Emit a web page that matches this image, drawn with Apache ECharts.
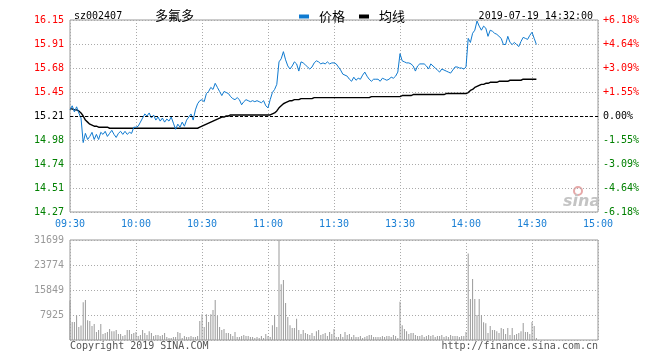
<!DOCTYPE html>
<html>
<head>
<meta charset="utf-8">
<script src="https://cdn.jsdelivr.net/npm/echarts@6/dist/echarts.min.js"></script>
<style>
html,body{margin:0;padding:0;background:#fff;}
#chart{width:660px;height:360px;}
</style>
</head>
<body>
<div id="chart"></div>
<script>
var stockCode = 'sz002407';
var stockName = '多氟多';
var stamp = '2019-07-19 14:32:00';
var prevClose = 15.21;
var priceMin = 14.27, priceMax = 16.15;
var volMax = 31699;
var timeTicks = ['09:30','10:00','10:30','11:00','11:30','13:30','14:00','14:30','15:00'];
var priceLabels = ['14.27','14.51','14.74','14.98','15.21','15.45','15.68','15.91','16.15'];
var pctLabels = ['-6.18%','-4.64%','-3.09%','-1.55%','0.00%','+1.55%','+3.09%','+4.64%','+6.18%'];
var volLabels = ['','7925','15849','23774','31699'];

// one value per trading minute from 09:30 (index 0) to 14:32
var prices = [
15.27,15.31,15.25,15.30,15.24,15.19,14.95,15.04,14.98,15.01,
15.05,14.98,15.03,14.98,15.05,15.03,15.06,15.01,15.04,15.07,
15.03,15.00,15.04,15.06,15.03,15.06,15.03,15.05,15.04,15.10,
15.10,15.11,15.15,15.19,15.23,15.21,15.24,15.19,15.22,15.17,
15.20,15.16,15.19,15.15,15.18,15.16,15.20,15.14,15.08,15.13,
15.10,15.15,15.11,15.17,15.20,15.23,15.17,15.27,15.33,15.36,
15.37,15.35,15.43,15.45,15.49,15.47,15.53,15.49,15.45,15.41,
15.45,15.44,15.43,15.40,15.38,15.37,15.39,15.37,15.32,15.35,
15.37,15.36,15.35,15.36,15.35,15.36,15.35,15.34,15.36,15.31,
15.29,15.37,15.44,15.47,15.52,15.74,15.77,15.84,15.76,15.70,
15.67,15.70,15.74,15.72,15.65,15.74,15.73,15.71,15.69,15.67,
15.69,15.73,15.75,15.74,15.72,15.73,15.72,15.74,15.72,15.73,
15.73,15.72,15.69,15.66,15.62,15.61,15.60,15.57,15.55,15.59,
15.56,15.58,15.57,15.61,15.64,15.60,15.57,15.55,15.57,15.57,
15.57,15.55,15.58,15.57,15.56,15.57,15.59,15.58,15.60,15.64,
15.82,15.75,15.74,15.73,15.73,15.72,15.70,15.65,15.70,15.72,
15.72,15.72,15.70,15.67,15.72,15.70,15.68,15.66,15.64,15.67,
15.66,15.65,15.64,15.63,15.66,15.69,15.69,15.68,15.68,15.67,
15.69,15.97,15.93,16.02,16.05,16.14,16.09,16.05,16.09,16.07,
15.99,16.05,16.04,16.02,16.01,15.99,15.97,15.91,15.91,15.99,
15.93,15.91,15.93,15.91,15.89,15.94,15.98,15.97,15.96,16.00,
16.03,15.97,15.91
];
var avgPrices = [
15.28,15.28,15.27,15.27,15.26,15.24,15.21,15.17,15.15,15.13,
15.12,15.11,15.11,15.10,15.10,15.10,15.10,15.10,15.09,15.09,
15.09,15.09,15.09,15.09,15.09,15.09,15.09,15.09,15.09,15.09,
15.09,15.09,15.09,15.09,15.09,15.09,15.09,15.09,15.09,15.09,
15.09,15.09,15.09,15.09,15.09,15.09,15.09,15.09,15.09,15.09,
15.09,15.09,15.09,15.09,15.09,15.09,15.09,15.09,15.09,15.10,
15.11,15.12,15.13,15.14,15.15,15.16,15.17,15.18,15.19,15.20,
15.20,15.21,15.21,15.22,15.22,15.22,15.22,15.22,15.22,15.22,
15.22,15.22,15.22,15.22,15.22,15.22,15.22,15.22,15.22,15.22,
15.22,15.22,15.23,15.24,15.26,15.29,15.31,15.33,15.34,15.35,
15.36,15.36,15.37,15.37,15.37,15.38,15.38,15.38,15.38,15.38,
15.38,15.39,15.39,15.39,15.39,15.39,15.39,15.39,15.39,15.39,
15.39,15.39,15.39,15.39,15.39,15.39,15.39,15.39,15.39,15.39,
15.39,15.39,15.39,15.39,15.39,15.39,15.39,15.40,15.40,15.40,
15.40,15.40,15.40,15.40,15.40,15.40,15.40,15.40,15.40,15.40,
15.40,15.41,15.41,15.41,15.41,15.41,15.42,15.42,15.42,15.42,
15.42,15.42,15.42,15.42,15.42,15.42,15.42,15.42,15.42,15.42,
15.42,15.43,15.43,15.43,15.43,15.43,15.43,15.43,15.43,15.43,
15.43,15.44,15.46,15.47,15.49,15.50,15.51,15.52,15.52,15.53,
15.53,15.54,15.54,15.54,15.54,15.55,15.55,15.55,15.55,15.55,
15.56,15.56,15.56,15.56,15.56,15.56,15.57,15.57,15.57,15.57,
15.57,15.57,15.57
];
var volumes = [
12500,5700,5700,7800,4100,4600,12000,12700,6300,6000,
4400,5100,2500,3200,5100,1900,2200,2500,3500,2800,
2800,3200,1900,1900,1300,1600,3200,3200,1900,2200,
2500,1300,1600,3200,2200,1600,2800,2200,1300,1600,
1600,1300,1600,2200,950,630,630,950,950,2500,
2200,630,1300,950,950,1300,950,950,1300,6000,
8200,4100,8200,5700,8200,9500,12700,7600,4100,3200,
3500,2200,2200,1900,1300,2500,950,950,1300,1600,
1300,1300,950,950,630,950,630,1300,630,1900,
1300,950,4700,7900,4100,31699,17700,19000,11700,7300,
4700,3800,3800,6700,3200,1900,3200,2200,1900,1600,
2200,1300,2800,3200,1600,1900,2200,1300,2500,1900,
3500,950,950,1900,950,2500,1600,1900,950,1600,
950,950,1300,630,950,1300,1600,1600,950,950,
950,950,1300,950,1300,1300,950,1600,1300,630,
12100,4700,3500,2800,1900,2200,2200,1600,1300,1300,
1600,950,1300,1600,1300,1600,950,1300,1300,1600,
950,1300,950,1600,1300,1300,1300,950,1300,1300,
2500,27400,13000,19300,13000,7900,13000,7900,5600,5300,
2200,4400,3200,3200,2800,2200,3800,3500,1900,3800,
1600,3800,1600,1900,2200,2800,5400,2500,2500,1900,
5700,4400,630
];

var mono = 'DejaVu Sans Mono';
var cjk = 'Noto Sans CJK SC';
var gridGray = '#aaaaaa';
var dotted = {color: gridGray, type: [1, 2], width: 1};

function lvlColor(i) { return i > 4 ? '#ff0000' : (i < 4 ? '#008000' : '#000000'); }

var chart = echarts.init(document.getElementById('chart'), null, {renderer: 'canvas'});
var option = {
  animation: false,
  backgroundColor: '#ffffff',
  title: [
    {text: stockCode, left: 69, top: 6, textStyle: {fontFamily: mono, fontSize: 10, fontWeight: 'normal', color: '#000'}},
    {text: stockName, left: 150, top: 4, textStyle: {fontFamily: cjk, fontSize: 13, fontWeight: 'normal', color: '#000'}},
    {text: stamp, right: 62, top: 6, textStyle: {fontFamily: mono, fontSize: 10, fontWeight: 'normal', color: '#000'}}
  ],
  legend: {
    left: 294, top: 5, itemWidth: 10, itemHeight: 4, itemGap: 14, icon: 'rect',
    textStyle: {fontFamily: cjk, fontSize: 13, color: '#000', padding: [0, 0, 0, 5]},
    data: [{name: '价格', itemStyle: {color: '#0f7ad0'}}, {name: '均线', itemStyle: {color: '#000'}}]
  },
  grid: [
    {left: 70, right: 62, top: 20, height: 192, show: true, borderColor: '#999', borderWidth: 1, backgroundColor: 'transparent'},
    {left: 70, right: 62, top: 240, height: 100, show: true, borderColor: '#999', borderWidth: 1, backgroundColor: 'transparent'}
  ],
  xAxis: [
    {type: 'value', gridIndex: 0, min: 0, max: 240, interval: 30,
     axisLine: {show: false}, axisTick: {show: false},
     splitLine: {show: true, lineStyle: dotted},
     axisLabel: {margin: 7, fontFamily: mono, fontSize: 10, color: '#1a7fd4',
       formatter: function (v) { return timeTicks[Math.round(v / 30)]; }}},
    {type: 'value', gridIndex: 1, min: 0, max: 240, interval: 30,
     axisLine: {show: false}, axisTick: {show: false}, axisLabel: {show: false},
     splitLine: {show: true, lineStyle: dotted}}
  ],
  yAxis: [
    {type: 'value', gridIndex: 0, min: priceMin, max: priceMax, show: false},
    {type: 'value', gridIndex: 0, min: 0, max: 8, interval: 1, position: 'left',
     axisLine: {show: false}, axisTick: {show: false},
     splitLine: {show: true, lineStyle: dotted},
     axisLabel: {margin: 6, fontFamily: mono, fontSize: 10,
       formatter: function (v) { return priceLabels[Math.round(v)]; },
       color: function (v, i) { return lvlColor(Math.round(v)); }}},
    {type: 'value', gridIndex: 0, min: 0, max: 8, interval: 1, position: 'right',
     axisLine: {show: false}, axisTick: {show: false}, splitLine: {show: false},
     axisLabel: {margin: 5, fontFamily: mono, fontSize: 10,
       formatter: function (v) { return pctLabels[Math.round(v)]; },
       color: function (v, i) { return lvlColor(Math.round(v)); }}},
    {type: 'value', gridIndex: 1, min: 0, max: volMax, show: false},
    {type: 'value', gridIndex: 1, min: 0, max: 4, interval: 1, position: 'left',
     axisLine: {show: false}, axisTick: {show: false},
     splitLine: {show: true, lineStyle: dotted},
     axisLabel: {margin: 6, fontFamily: mono, fontSize: 10, color: '#999',
       formatter: function (v) { return volLabels[Math.round(v)]; }}}
  ],
  series: [
    {name: '价格', type: 'line', xAxisIndex: 0, yAxisIndex: 0, symbol: 'none',
     lineStyle: {color: '#0f7ad0', width: 1}, itemStyle: {color: '#0f7ad0'}, z: 4,
     data: prices.map(function (p, i) { return [i, p]; }),
     markLine: {silent: true, symbol: ['none', 'none'], label: {show: false},
       lineStyle: {color: '#000', type: [3, 2], width: 1},
       data: [{yAxis: prevClose}]}},
    {name: '均线', type: 'line', xAxisIndex: 0, yAxisIndex: 0, symbol: 'none',
     lineStyle: {color: '#000', width: 1.4}, itemStyle: {color: '#000'}, z: 3,
     data: avgPrices.map(function (p, i) { return [i, p]; })},
    {name: '成交量', type: 'bar', xAxisIndex: 1, yAxisIndex: 3, barWidth: 1,
     itemStyle: {color: '#9a9a9a'},
     data: volumes.map(function (v, i) { return [i, v]; })}
  ],
  graphic: [
    {type: 'text', left: 70, top: 341, style: {text: 'Copyright 2019 SINA.COM', font: '10px "DejaVu Sans Mono"', fill: '#555'}},
    {type: 'text', right: 62, top: 341, style: {text: 'http://finance.sina.com.cn', font: '10px "DejaVu Sans Mono"', fill: '#555'}},
    {type: 'circle', shape: {cx: 578, cy: 191, r: 4}, style: {fill: 'none', stroke: '#e6a8a8', lineWidth: 2}},
    {type: 'text', left: 563, top: 194, style: {text: 'sina', font: 'italic bold 16px "DejaVu Sans"', fill: '#c4c4c4'}}
  ]
};
chart.setOption(option);
</script>
</body>
</html>
